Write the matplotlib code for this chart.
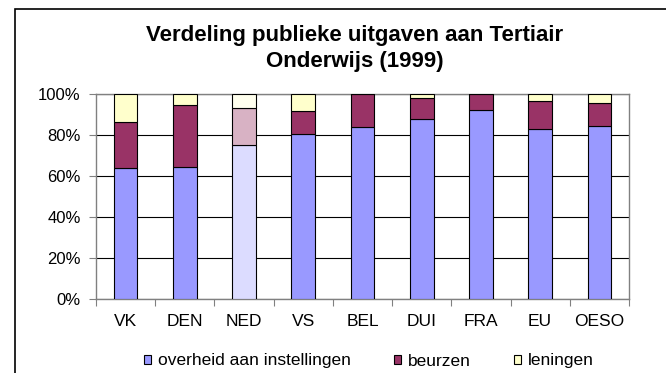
import matplotlib
matplotlib.use("Agg")
import matplotlib.pyplot as plt
import numpy as np
from matplotlib.patches import Patch, Rectangle
from matplotlib.ticker import FixedLocator, PercentFormatter

plt.rcParams['font.family'] = ['Liberation Sans', 'DejaVu Sans']

# aandelen per land (procent van publieke uitgaven)
landen = ["VK", "DEN", "NED", "VS", "BEL", "DUI", "FRA", "EU", "OESO"]
overheid = [63.8, 64.3, 75.2, 80.4, 83.8, 87.7, 92.2, 83.1, 84.4]
beurzen = [22.6, 30.3, 18.1, 11.2, 16.2, 10.2, 7.8, 13.6, 11.2]
leningen = [13.6, 5.4, 6.7, 8.4, 0.0, 2.1, 0.0, 3.3, 4.4]

reeksen = ["overheid aan instellingen", "beurzen", "leningen"]
kleuren = ["#9999FF", "#993366", "#FFFFCC"]
# NED wordt lichter weergegeven
kleuren_ned = ["#DCDCFF", "#D8B2C4", "#FFFFEE"]

W, H = 666, 373
fig = plt.figure(figsize=(W / 100, H / 100), dpi=100)
fig.patch.set_facecolor("white")

# kader rond de grafiek
fig.patches.append(Rectangle((15 / W, -0.1), 1.2, (H - 9) / H + 0.1,
                             transform=fig.transFigure, fill=False,
                             edgecolor="black", linewidth=1.2))

ax = fig.add_axes([96 / W, (H - 299) / H, (629 - 96) / W, (299 - 94) / H])

x = np.arange(len(landen))
onder = np.zeros(len(landen))
for waarden, kleur, kleur_ned in zip([overheid, beurzen, leningen], kleuren, kleuren_ned):
    waarden = np.array(waarden)
    fc = [kleur_ned if l == "NED" else kleur for l in landen]
    ax.bar(x, waarden, 0.4, bottom=onder, color=fc, edgecolor="black",
           linewidth=0.8, zorder=3)
    onder += waarden

ax.set_xlim(-0.5, len(landen) - 0.5)
ax.set_ylim(0, 100)
ax.set_yticks(np.arange(0, 101, 20))
ax.yaxis.set_major_formatter(PercentFormatter(decimals=0))
ax.grid(axis="y", color="black", linewidth=0.8, zorder=0)

ax.set_xticks(x)
ax.set_xticklabels(landen)
ax.xaxis.set_minor_locator(FixedLocator(np.arange(-0.5, len(landen), 1)))
ax.tick_params(axis="x", which="major", length=0, pad=11, labelsize=12.5)
ax.tick_params(axis="x", which="minor", length=5, color="#808080", width=0.8)
ax.tick_params(axis="y", length=5, color="#808080", width=0.8, labelsize=12, pad=6)

for s in ax.spines.values():
    s.set_color("#808080")
    s.set_linewidth(1)

fig.text(355 / W, 1 - 36 / H, "Verdeling publieke uitgaven aan Tertiair",
         ha="center", va="center", fontsize=16, fontweight="bold")
fig.text(355 / W, 1 - 62 / H, "Onderwijs (1999)",
         ha="center", va="center", fontsize=16, fontweight="bold")

handles = [Patch(facecolor=k, edgecolor="black", linewidth=0.8) for k in kleuren]
fig.legend(handles, reeksen, loc="center", bbox_to_anchor=(369 / W, 1 - 361 / H),
           ncol=3, frameon=False, fontsize=12.5, handlelength=0.38, handleheight=0.38,
           handletextpad=0.4, columnspacing=2.5)

fig.savefig("out.png", dpi=100)
